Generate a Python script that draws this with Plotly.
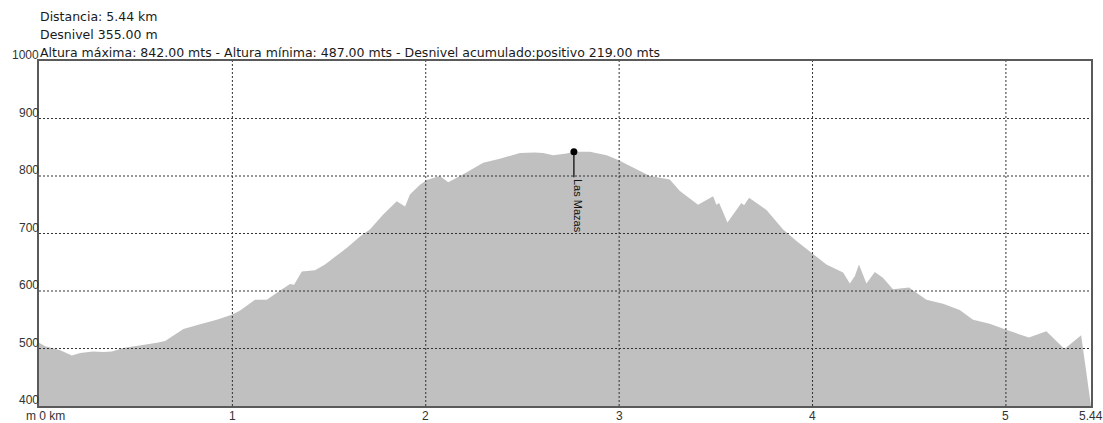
import plotly.graph_objects as go

# Elevation profile (distance km, elevation m)
km = [0, 0.032, 0.11, 0.17, 0.213, 0.28, 0.333, 0.377, 0.437, 0.523, 0.61, 0.652, 0.747, 0.833, 0.919,
      1.0, 1.04, 1.117, 1.178, 1.247, 1.298, 1.319, 1.359, 1.427, 1.479, 1.591, 1.66, 1.711, 1.78, 1.85,
      1.893, 1.918, 1.97, 2.005, 2.073, 2.116, 2.194, 2.297, 2.383, 2.487, 2.564, 2.607, 2.659, 2.728,
      2.766, 2.849, 2.935, 2.995, 3.09, 3.159, 3.262, 3.314, 3.408, 3.486, 3.503, 3.517, 3.56, 3.632,
      3.646, 3.672, 3.762, 3.848, 3.917, 3.997, 4.072, 4.158, 4.193, 4.219, 4.24, 4.279, 4.322, 4.364,
      4.416, 4.499, 4.589, 4.675, 4.761, 4.83, 4.916, 4.998, 5.119, 5.209, 5.303, 5.389, 5.44]
elev = [510, 504, 497, 488, 492, 495, 494, 495, 501, 505, 510, 513, 534, 542, 550,
        559, 566, 585, 585, 601, 612, 611, 634, 636, 646, 675, 695, 707, 733, 756,
        747, 768, 785, 793, 800, 789, 803, 823, 830, 840, 841, 840, 836, 839,
        842, 842, 836, 828, 811, 800, 794, 774, 750, 765, 750, 753, 719, 753,
        749, 762, 741, 707, 687, 666, 646, 632, 613, 626, 646, 613, 633, 623,
        603, 606, 585, 578, 567, 550, 543, 533, 519, 530, 499, 523, 400]

# Waypoint
wp_km = [2.766]
wp_elev = [842]
wp_name = ["Las Mazas"]

# Ticks
x_ticks = [1, 2, 3, 4, 5, 5.44]
x_tick_text = ["1", "2", "3", "4", "5", "5.44"]
y_ticks = [400, 500, 600, 700, 800, 900, 1000]
x_grid = [1, 2, 3, 4, 5]
y_grid = [500, 600, 700, 800, 900]

header_lines = [
    "Distancia: 5.44 km",
    "Desnivel 355.00 m",
    "Altura máxima: 842.00 mts - Altura mínima: 487.00 mts - Desnivel acumulado:positivo 219.00 mts",
]

FONT = "Liberation Sans, Arial, sans-serif"
HFONT = "DejaVu Sans, sans-serif"

fig = go.Figure()
fig.add_trace(go.Scatter(x=km, y=elev, mode="lines", fill="tozeroy",
                         fillcolor="#c0c0c0", line=dict(color="#c0c0c0", width=0),
                         hoverinfo="skip", showlegend=False))
fig.add_trace(go.Scatter(x=wp_km, y=wp_elev, mode="markers",
                         marker=dict(color="black", size=7), showlegend=False))

shapes = []
for gx in x_grid:
    shapes.append(dict(type="line", xref="x", yref="paper", x0=gx, x1=gx, y0=0, y1=1,
                       line=dict(color="#333333", width=1, dash="2px,2px"), layer="above"))
for gy in y_grid:
    shapes.append(dict(type="line", xref="paper", yref="y", x0=0, x1=1, y0=gy, y1=gy,
                       line=dict(color="#333333", width=1, dash="2px,2px"), layer="above"))

annotations = []
# header
for txt, sh in zip(header_lines, [45, 27, 9]):
    annotations.append(dict(text=txt, xref="paper", yref="paper", x=0, y=1, xanchor="left",
                            yanchor="middle", yshift=sh, xshift=-1, showarrow=False,
                            font=dict(family=HFONT, size=12.5, color="#1a1a1a")))
# y tick labels
for yt in y_ticks:
    annotations.append(dict(text=str(yt), xref="paper", yref="y", x=0, y=yt, xanchor="right",
                            yanchor="middle", yshift=6, xshift=2, showarrow=False,
                            font=dict(family=FONT, size=12, color="#333333")))
# x tick labels
for xt, tt in zip(x_ticks, x_tick_text):
    annotations.append(dict(text=tt, xref="x", yref="paper", x=xt, y=0, xanchor="center",
                            yanchor="top", yshift=-1, showarrow=False,
                            font=dict(family=FONT, size=12, color="#333333")))
annotations.append(dict(text="m 0 km", xref="x", yref="paper", x=0, y=0, xanchor="center",
                        yanchor="top", xshift=6, yshift=-1, showarrow=False,
                        font=dict(family=FONT, size=12, color="#333333")))
# waypoint stem and label
for wx, wy, wn in zip(wp_km, wp_elev, wp_name):
    annotations.append(dict(text="", x=wx, y=wy, xref="x", yref="y", showarrow=True,
                            arrowhead=0, arrowwidth=1.2, arrowcolor="black", ax=0, ay=27,
                            standoff=0, startstandoff=0))
    annotations.append(dict(text=wn, x=wx, y=wy, xref="x", yref="y", showarrow=False,
                            textangle=90, xanchor="center", yanchor="top", xshift=4, yshift=-25,
                            font=dict(family=FONT, size=11, color="#111111")))

fig.update_layout(
    width=1103, height=423,
    margin=dict(l=39, r=12, t=61, b=17, autoexpand=False),
    paper_bgcolor="white", plot_bgcolor="white",
    shapes=shapes, annotations=annotations,
    xaxis=dict(range=[0, 5.44], showgrid=False, zeroline=False, showticklabels=False,
               ticks="", showline=True, linecolor="#5a5a5a", linewidth=1.5, mirror=True),
    yaxis=dict(range=[400, 1000], showgrid=False, zeroline=False, showticklabels=False,
               ticks="", showline=True, linecolor="#5a5a5a", linewidth=1.5, mirror=True),
    showlegend=False,
)

fig.write_html("out.html", config={"displayModeBar": False},
               post_script="document.body.style.margin='0';")
